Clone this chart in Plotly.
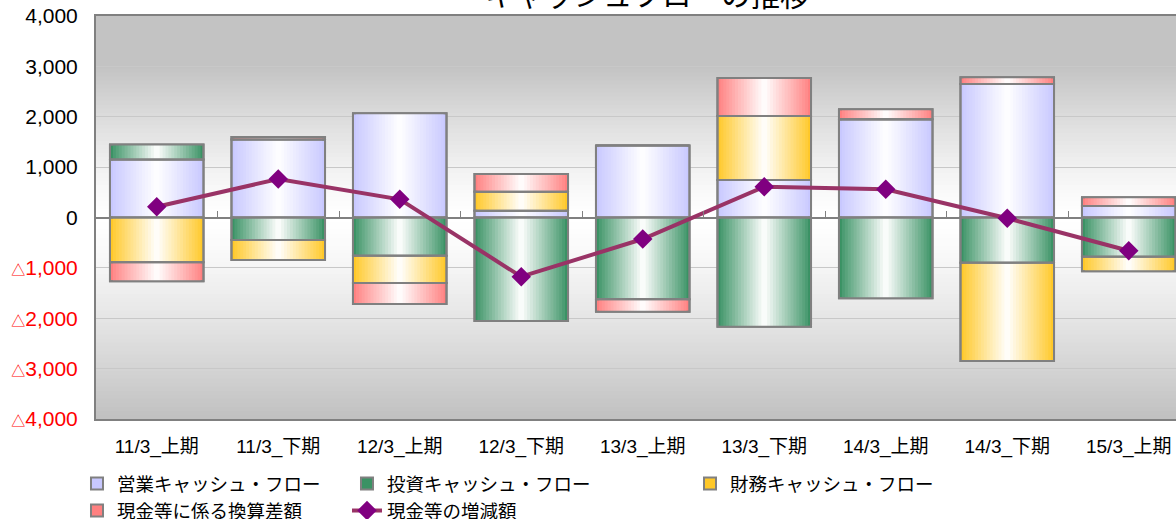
import plotly.graph_objects as go

# ---------------- data ----------------
categories = ["11/3_上期", "11/3_下期", "12/3_上期", "12/3_下期", "13/3_上期",
              "13/3_下期", "14/3_上期", "14/3_下期", "15/3_上期"]
operating_cf = [1150, 1550, 2070, 135, 1430, 744, 1948, 2649, 228]
investing_cf = [300, -446, -758, -2054, -1623, -2167, -1603, -897, -778]
financing_cf = [-890, -400, -542, 377, 0, 1270, 0, -1950, -289]
fx_diff = [-375, 50, -416, 351, -246, 754, 199, 135, 173]
net_change = [214, 764, 361, -1175, -427, 611, 560, -16, -659]

series_names = ["営業キャッシュ・フロー", "投資キャッシュ・フロー", "財務キャッシュ・フロー", "現金等に係る換算差額"]
line_name = "現金等の増減額"
title_text = "キャッシュフローの推移"

ytick_vals = [4000, 3000, 2000, 1000, 0, -1000, -2000, -3000, -4000]
ytick_labels = ["4,000", "3,000", "2,000", "1,000", "0", "1,000", "2,000", "3,000", "4,000"]

# ---------------- style ----------------
edge_colors = [(200, 200, 255), (58, 146, 100), (255, 200, 40), (255, 128, 128)]
legend_ids = ["legend", "legend2", "legend3", "legend"]
outline = "#808080"
BAR_W = 0.77
N_LAYERS = 16
FONT = "Liberation Sans, Arial, Noto Sans CJK JP, sans-serif"


def mix(c, t):
    # t=0 -> edge colour, t=1 -> white
    r, g, b = (round(c[i] + (255 - c[i]) * t) for i in range(3))
    return f"rgb({r},{g},{b})"


all_series = [operating_cf, investing_cf, financing_cf, fx_diff]

# stacking bases (positive upward, negative downward) like the original chart
bases = []
pos = [0] * len(categories)
neg = [0] * len(categories)
for vals in all_series:
    b = []
    for i, v in enumerate(vals):
        if v >= 0:
            b.append(pos[i]); pos[i] += v
        else:
            b.append(neg[i]); neg[i] += v
    bases.append(b)

fig = go.Figure()

# gradient fill layers
for s, vals in enumerate(all_series):
    for k in range(N_LAYERS):
        frac = 1 - k / N_LAYERS
        t = (k + 0.5) / N_LAYERS
        fig.add_trace(go.Bar(
            x=categories, y=vals, base=bases[s],
            width=[BAR_W * frac] * len(categories),
            marker=dict(color=mix(edge_colors[s], t if k else 0.0),
                        line=dict(width=2 if k == 0 else 0, color=outline)),
            name=series_names[s], legend=legend_ids[s],
            showlegend=(k == 0), hoverinfo="skip",
        ))

# outlines on top
for s, vals in enumerate(all_series):
    fig.add_trace(go.Bar(
        x=categories, y=vals, base=bases[s],
        width=[BAR_W] * len(categories),
        marker=dict(color="rgba(0,0,0,0)", line=dict(width=2, color=outline)),
        showlegend=False, name=series_names[s],
    ))

# net change line
fig.add_trace(go.Scatter(
    x=categories, y=net_change, mode="lines+markers", name=line_name,
    line=dict(color="#993366", width=4),
    marker=dict(symbol="diamond", size=15, color="#800080"),
    legend="legend2",
))

# dummy trace for the zero-line tick axis
fig.add_trace(go.Scatter(x=[0], y=[0], xaxis="x2", mode="markers",
                         marker=dict(opacity=0), showlegend=False, hoverinfo="skip"))

# background vertical gradient (decoration)
shapes = []
nb = 100
y0 = -4000
step = 8000 / nb
for i in range(nb):
    lo = y0 + i * step
    mid = lo + step / 2
    if mid >= 0:
        sfrac = min(1.0, mid / 3000)
        lvl = 255 - (255 - 195) * sfrac ** 1.3
    else:
        sfrac = min(1.0, -mid / 4000)
        lvl = 255 - (255 - 192) * sfrac ** 1.3
    lvl = round(lvl)
    col = f"rgb({lvl},{lvl},{lvl})"
    shapes.append(dict(type="rect", xref="paper", yref="y", x0=0, x1=1,
                       y0=lo, y1=min(4000, lo + step * 1.6), layer="below",
                       line=dict(width=0, color=col), fillcolor=col))

tick_text = []
for v, lab in zip(ytick_vals, ytick_labels):
    if v < 0:
        tick_text.append(f'<span style="color:#ff0000"><span style="font-size:14px">△</span>{lab}</span>')
    else:
        tick_text.append(lab)

n = len(categories)
xr = [-0.5, -0.5 + 1080 / 121.5]
leg_common = dict(xanchor="left", y=-0.114, yanchor="top", orientation="v",
                  bgcolor="rgba(0,0,0,0)", font=dict(size=18.5), tracegroupgap=0)
fig.update_layout(
    width=1176, height=519,
    margin=dict(l=96, r=0, t=16, b=100, autoexpand=False),
    paper_bgcolor="white", plot_bgcolor="rgba(0,0,0,0)",
    barmode="overlay",
    font=dict(family=FONT, size=19, color="black"),
    shapes=shapes,
    xaxis=dict(type="category", categoryorder="array", categoryarray=categories,
               range=xr, automargin=False,
               showline=True, linecolor=outline, linewidth=2, mirror=True,
               showgrid=False, ticks="outside", ticklen=9, tickcolor="rgba(0,0,0,0)",
               tickfont=dict(size=19)),
    xaxis2=dict(overlaying="x", anchor="free", position=0.5, type="linear",
                range=xr, automargin=False,
                tickvals=[i + 0.5 for i in range(n)], ticks="inside", ticklen=7,
                tickcolor=outline, tickwidth=1, showticklabels=False,
                showgrid=False, showline=False, zeroline=False),
    yaxis=dict(range=[-4000, 4000], tickvals=ytick_vals, ticktext=tick_text,
               automargin=False, ticklabeloverflow="allow",
               showline=True, linecolor=outline, linewidth=2,
               showgrid=True, gridcolor="#c8c8c8", gridwidth=1,
               zeroline=True, zerolinecolor=outline, zerolinewidth=1.5,
               ticks="", ticklabelstandoff=12, tickfont=dict(size=21)),
    legend=dict(x=-0.0176, **leg_common),
    legend2=dict(x=0.2324, **leg_common),
    legend3=dict(x=0.55, **leg_common),
    annotations=[dict(text=title_text, xref="paper", yref="paper", x=0.511, y=1.057,
                      xanchor="center", yanchor="middle", showarrow=False,
                      font=dict(family="Noto Sans CJK JP", size=29.5, color="black"))],
)

# remove the default 8px page margin so the figure starts at the window's corner
fig.write_html("out.html", config={"displayModeBar": False},
               post_script="document.body.style.margin='0';")
